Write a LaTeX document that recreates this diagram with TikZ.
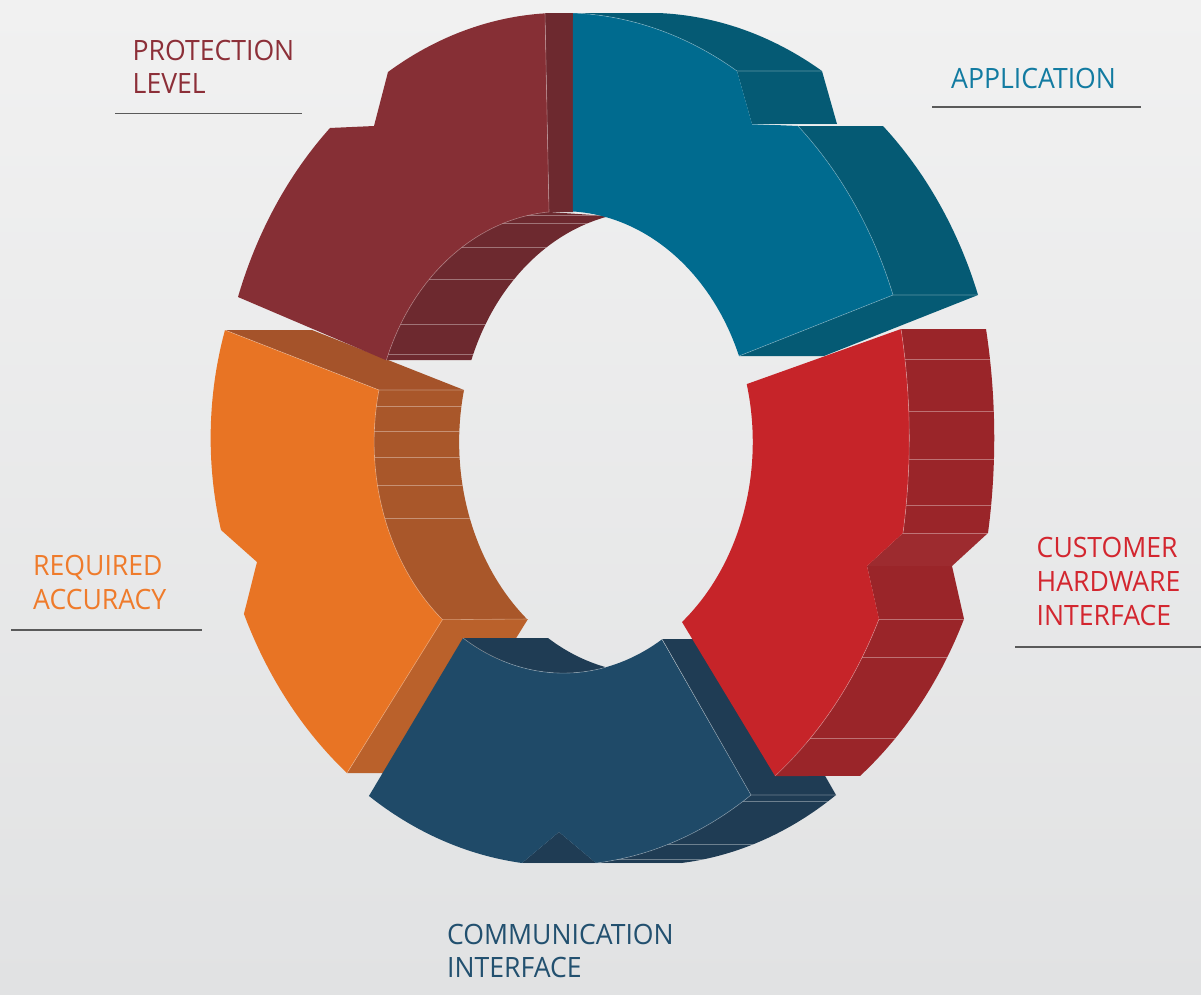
\documentclass[tikz,border=0pt]{standalone}
\usepackage{fontspec}
\setmainfont{Open Sans}[FakeStretch=0.95]
\definecolor{bgTop}{HTML}{F1F1F1}
\definecolor{bgBot}{HTML}{E1E2E3}
\definecolor{maF}{HTML}{862F35}
\definecolor{maS}{HTML}{6D292F}
\definecolor{apF}{HTML}{006B8F}
\definecolor{apS}{HTML}{055A74}
\definecolor{reF}{HTML}{C62429}
\definecolor{reS}{HTML}{9A2529}
\definecolor{orF}{HTML}{E87424}
\definecolor{orIn}{HTML}{A9572A}
\definecolor{orTop}{HTML}{A5532A}
\definecolor{orBot}{HTML}{BA612B}
\definecolor{coF}{HTML}{1F4A68}
\definecolor{coS}{HTML}{1F3C54}
\definecolor{txMa}{HTML}{8C2F38}
\definecolor{txAp}{HTML}{127BA1}
\definecolor{txRe}{HTML}{D3262F}
\definecolor{txOr}{HTML}{EF7B2B}
\definecolor{txCo}{HTML}{22506F}
\definecolor{ruleGray}{HTML}{5A5A5A}
\begin{document}
\begin{tikzpicture}[x=1pt,y=-1pt,
  seam/.style={draw=white, draw opacity=0.35, line width=0.6pt},
  lbl/.style={anchor=base west, inner sep=0pt, font=\fontsize{28}{34}\selectfont},
  underline/.style={draw=ruleGray, line width=1.3pt},
  inr/.style={x radius=189.5, y radius=231}]
\useasboundingbox (0,0) rectangle (1201,994);
\shade[top color=bgTop, bottom color=bgBot] (0,0) rectangle (1201,994);

% ================= REQUIRED ACCURACY (orange) =================
\fill[orTop] (225,330) -- (312,330) -- (464,390) -- (379,390) -- cycle;
\begin{scope}
\clip (379,390) -- (464,390) arc[inr, start angle=193, end angle=129.7]
  -- (442.4,619.7) arc[inr, start angle=129.7, end angle=193] -- cycle;
\fill[orIn] (300,350) rectangle (560,650);
\foreach \yy in {406,431,457,485,518} \draw[seam] (350,\yy) -- (500,\yy);
\end{scope}
\fill[orBot] (442.4,619) -- (528,619) -- (432,773) -- (347,773) -- cycle;
\fill[orF] (225,330) -- (379,390) arc[inr, start angle=193, end angle=129.7]
  -- (347,773) arc[start angle=127.97, end angle=155.54, x radius=349.4, y radius=425]
  -- (257,562) -- (221,530)
  arc[start angle=166.05, end angle=196.43, x radius=351.4, y radius=381.7] -- cycle;
\draw[seam] (464,390) -- (379,390) -- (225,330);
\draw[seam] (379,390) arc[inr, start angle=193, end angle=129.7] -- (528,619);
\draw[seam] (442.4,619.7) -- (347,773);

% ================= PROTECTION LEVEL (maroon) =================
\begin{scope}
\clip (549,212) -- (609.1,216.1) arc[inr, start angle=-102, end angle=-159.2]
  -- (386.3,360) arc[inr, start angle=-159.2, end angle=-94.39] -- cycle;
\fill[maS] (370,200) rectangle (630,370);
\foreach \yy in {215,223,247,279,324,354} \draw[seam] (380,\yy) -- (620,\yy);
\end{scope}
\fill[maS] (545,13) -- (573,13) -- (573,212) -- (549,212) -- cycle;
\fill[maF] (545,13) -- (549,212) arc[inr, start angle=-94.39, end angle=-159.2]
  -- (238,297) arc[start angle=-160.38, end angle=-132.41, x radius=344, y radius=419.9]
  -- (374,126) -- (388,72)
  arc[start angle=-120.6, end angle=-92.85, x radius=342, y radius=425] -- cycle;
\draw[seam] (545,13) -- (549,212);
\draw[seam] (549,212) arc[inr, start angle=-94.39, end angle=-159.2];

% ================= APPLICATION (blue) =================
\fill[apS] (573,13) -- (658,13)
  arc[start angle=-88.18, end angle=-59.67, x radius=346.5, y radius=425.2]
  -- (837,124) -- (752,124) -- (737,71)
  arc[start angle=-59.67, end angle=-88.18, x radius=346.5, y radius=425.2] -- cycle;
\fill[apS] (798,126) -- (883,126)
  arc[start angle=-47.9, end angle=-19.88, x radius=352, y radius=420.5]
  -- (824,356) -- (739,356) -- (893,295)
  arc[start angle=-19.88, end angle=-47.9, x radius=352, y radius=420.5] -- cycle;
\fill[apF] (573,13)
  arc[start angle=-88.18, end angle=-59.67, x radius=346.5, y radius=425.2]
  -- (752,124) -- (798,126)
  arc[start angle=-47.9, end angle=-19.88, x radius=352, y radius=420.5]
  -- (739,356) arc[inr, start angle=-21.9, end angle=-87.1] -- cycle;
\draw[seam] (573,13) arc[start angle=-88.18, end angle=-59.67, x radius=346.5, y radius=425.2] -- (822,71);
\draw[seam] (752,124) -- (837,124);
\draw[seam] (798,126) arc[start angle=-47.9, end angle=-19.88, x radius=352, y radius=420.5] -- (978,295);
\draw[seam] (893,295) -- (739,356);

% ================= COMMUNICATION INTERFACE (navy) =================
\fill[coS] (662,639) -- (747,639) -- (836,795) -- (751,795) -- cycle;
\fill[coS] (463,638) -- (548,638) arc[inr, start angle=122, end angle=102.96]
  arc[inr, start angle=77.04, end angle=122] -- cycle;
\begin{scope}
\clip (751,795) -- (836,795)
  arc[start angle=56.7, end angle=84.33, x radius=344.3, y radius=427.1]
  -- (596,863) arc[start angle=84.33, end angle=56.7, x radius=344.3, y radius=427.1] -- cycle;
\fill[coS] (580,780) rectangle (850,870);
\foreach \yy in {801,844,859} \draw[seam] (590,\yy) -- (850,\yy);
\end{scope}
\fill[coS] (522,863) -- (559,832) -- (596,863) -- cycle;
\fill[coF] (463,638) arc[inr, start angle=122, end angle=58.7]
  -- (751,795) arc[start angle=56.7, end angle=84.33, x radius=344.3, y radius=427.1]
  -- (559,832) -- (522,863)
  arc[start angle=96.51, end angle=123.19, x radius=352.6, y radius=427.8] -- cycle;
\draw[seam] (463,638) arc[inr, start angle=122, end angle=77.04];
\draw[seam] (662,639) -- (751,795) -- (836,795);
\draw[seam] (751,795) arc[start angle=56.7, end angle=84.33, x radius=344.3, y radius=427.1];
\draw[seam] (522,863) -- (681,863);

% ================= CUSTOMER HARDWARE INTERFACE (red) =================
\begin{scope}
\clip (901,329) -- (986,329)
  arc[start angle=-12.51, end angle=10.89, x radius=347.3, y radius=503]
  -- (952,566) -- (964,619)
  arc[start angle=25.16, end angle=52.54, x radius=350.2, y radius=425.8]
  -- (775,776) arc[start angle=52.54, end angle=25.16, x radius=350.2, y radius=425.8]
  -- (867,566) -- (903,533)
  arc[start angle=10.89, end angle=-12.51, x radius=347.3, y radius=503] -- cycle;
\fill[reS] (760,320) rectangle (1010,790);
\fill[white, opacity=0.03] (850,533) rectangle (1000,566);
\foreach \yy in {359,411,459,505,533,619,657,738} \draw[seam] (760,\yy) -- (1000,\yy);
\end{scope}
\fill[reF] (747,384) -- (901,329)
  arc[start angle=-12.51, end angle=10.89, x radius=347.3, y radius=503]
  -- (867,566) -- (879,619)
  arc[start angle=25.16, end angle=52.54, x radius=350.2, y radius=425.8]
  -- (682,622) arc[inr, start angle=51.2, end angle=-14.5] -- cycle;
\draw[seam] (901,329) arc[start angle=-12.51, end angle=10.89, x radius=347.3, y radius=503];
\draw[seam] (879,619) arc[start angle=25.16, end angle=52.54, x radius=350.2, y radius=425.8];

% ================= LABELS =================
\node[lbl, text=txMa] (protA) at (132.5,60) {PROTECTION};
\node[lbl, text=txMa] (protB) at (132.5,93) {LEVEL};
\draw[underline] (115,113.5) -- (302,113.5);

\node[lbl, text=txAp] (appl) at (951,88) {APPLICATION};
\draw[underline] (932,107) -- (1141,107);

\node[lbl, text=txRe] (custA) at (1036.5,557) {CUSTOMER};
\node[lbl, text=txRe] (custB) at (1036.5,591) {HARDWARE};
\node[lbl, text=txRe] (custC) at (1036.5,625) {INTERFACE};
\draw[underline] (1015,647) -- (1201,647);

\node[lbl, text=txOr] (reqA) at (33,575) {REQUIRED};
\node[lbl, text=txOr] (reqB) at (33,609) {ACCURACY};
\draw[underline] (11,630) -- (202,630);

\node[lbl, text=txCo] (comA) at (447,944) {COMMUNICATION};
\node[lbl, text=txCo] (comB) at (447,977) {INTERFACE};
\end{tikzpicture}
\end{document}
